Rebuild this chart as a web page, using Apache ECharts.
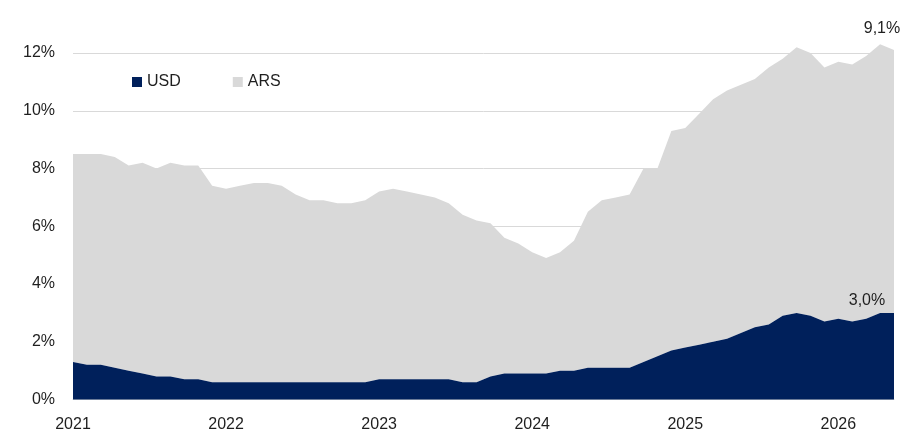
<!DOCTYPE html>
<html>
<head>
<meta charset="utf-8">
<script src="https://cdn.jsdelivr.net/npm/echarts@6/dist/echarts.min.js"></script>
<style>
  html, body { margin: 0; padding: 0; background: #ffffff; }
  #chart { width: 920px; height: 433px; }
</style>
</head>
<body>
<div id="chart"></div>
<script>
// Share of portfolio, in percent, by currency (stacked: USD below, ARS on top)
const usd = [
  1.3, 1.2, 1.2, 1.1, 1.0, 0.9, 0.8, 0.8, 0.7, 0.7,
  0.6, 0.6, 0.6, 0.6, 0.6, 0.6, 0.6, 0.6, 0.6, 0.6,
  0.6, 0.6, 0.7, 0.7, 0.7, 0.7, 0.7, 0.7, 0.6, 0.6,
  0.8, 0.9, 0.9, 0.9, 0.9, 1.0, 1.0, 1.1, 1.1, 1.1,
  1.1, 1.3, 1.5, 1.7, 1.8, 1.9, 2.0, 2.1, 2.3, 2.5,
  2.6, 2.9, 3.0, 2.9, 2.7, 2.8, 2.7, 2.8, 3.0, 3.0
];
const ars = [
  7.2, 7.3, 7.3, 7.3, 7.1, 7.3, 7.2, 7.4, 7.4, 7.4,
  6.8, 6.7, 6.8, 6.9, 6.9, 6.8, 6.5, 6.3, 6.3, 6.2,
  6.2, 6.3, 6.5, 6.6, 6.5, 6.4, 6.3, 6.1, 5.8, 5.6,
  5.3, 4.7, 4.5, 4.2, 4.0, 4.1, 4.5, 5.4, 5.8, 5.9,
  6.0, 6.7, 6.5, 7.6, 7.6, 8.0, 8.4, 8.6, 8.6, 8.6,
  8.9, 8.9, 9.2, 9.1, 8.8, 8.9, 8.9, 9.1, 9.3, 9.1
];
const yearLabels = ['2021', '2022', '2023', '2024', '2025', '2026'];
const pointsPerYear = 11;
const yTicks = { min: 0, max: 12, interval: 2 };

const categories = usd.map((_, i) => 'p' + i);
const last = usd.length - 1;

const FONT = '"Liberation Sans", Arial, sans-serif';
const TEXT = '#1f1f1f';
const fmtPct = v => v.toFixed(1).replace('.', ',') + '%';

// Value label drawn at the end of each stacked band
function endLabel(values, offset) {
  return {
    show: true,
    formatter: () => fmtPct(values[last]),
    distance: 0,
    offset: offset,
    align: 'center',
    verticalAlign: 'middle',
    color: TEXT,
    fontFamily: FONT,
    fontSize: 16
  };
}

const chart = echarts.init(document.getElementById('chart'), null, { renderer: 'canvas' });

chart.setOption({
  animation: false,
  backgroundColor: '#ffffff',
  textStyle: { fontFamily: FONT },
  grid: { left: 73, right: 26, top: 53, bottom: 33.5, outerBoundsMode: 'none' },
  legend: {
    left: 127,
    top: 69,
    itemWidth: 10,
    itemHeight: 10,
    itemGap: 52,
    icon: 'rect',
    textStyle: { color: TEXT, fontSize: 16, fontFamily: FONT },
    data: ['USD', 'ARS']
  },
  xAxis: {
    type: 'category',
    data: categories,
    boundaryGap: false,
    axisLine: { show: true, lineStyle: { color: '#d9d9d9', width: 1 } },
    axisTick: { show: false },
    splitLine: { show: false },
    axisLabel: {
      interval: i => i % pointsPerYear === 0,
      formatter: (val, i) => yearLabels[Math.floor(i / pointsPerYear)] || '',
      color: TEXT,
      fontSize: 16,
      fontFamily: FONT,
      margin: 17
    }
  },
  yAxis: {
    type: 'value',
    min: yTicks.min,
    max: yTicks.max,
    interval: yTicks.interval,
    axisLine: { show: false },
    axisTick: { show: false },
    splitLine: { lineStyle: { color: '#d9d9d9', width: 1 } },
    axisLabel: {
      formatter: v => v + '%',
      color: TEXT,
      fontSize: 16,
      fontFamily: FONT,
      margin: 18
    }
  },
  series: [
    {
      name: 'USD',
      type: 'line',
      stack: 'total',
      clip: false,
      showSymbol: false,
      symbol: 'none',
      lineStyle: { width: 0 },
      itemStyle: { color: '#00205b' },
      areaStyle: { color: '#00205b', opacity: 1 },
      endLabel: endLabel(usd, [-27, -12]),
      z: 3,
      data: usd
    },
    {
      name: 'ARS',
      type: 'line',
      stack: 'total',
      clip: false,
      showSymbol: false,
      symbol: 'none',
      lineStyle: { width: 0 },
      itemStyle: { color: '#d9d9d9' },
      areaStyle: { color: '#d9d9d9', opacity: 1 },
      endLabel: endLabel(ars, [-12, -22]),
      z: 2,
      data: ars
    }
  ]
});
</script>
</body>
</html>
